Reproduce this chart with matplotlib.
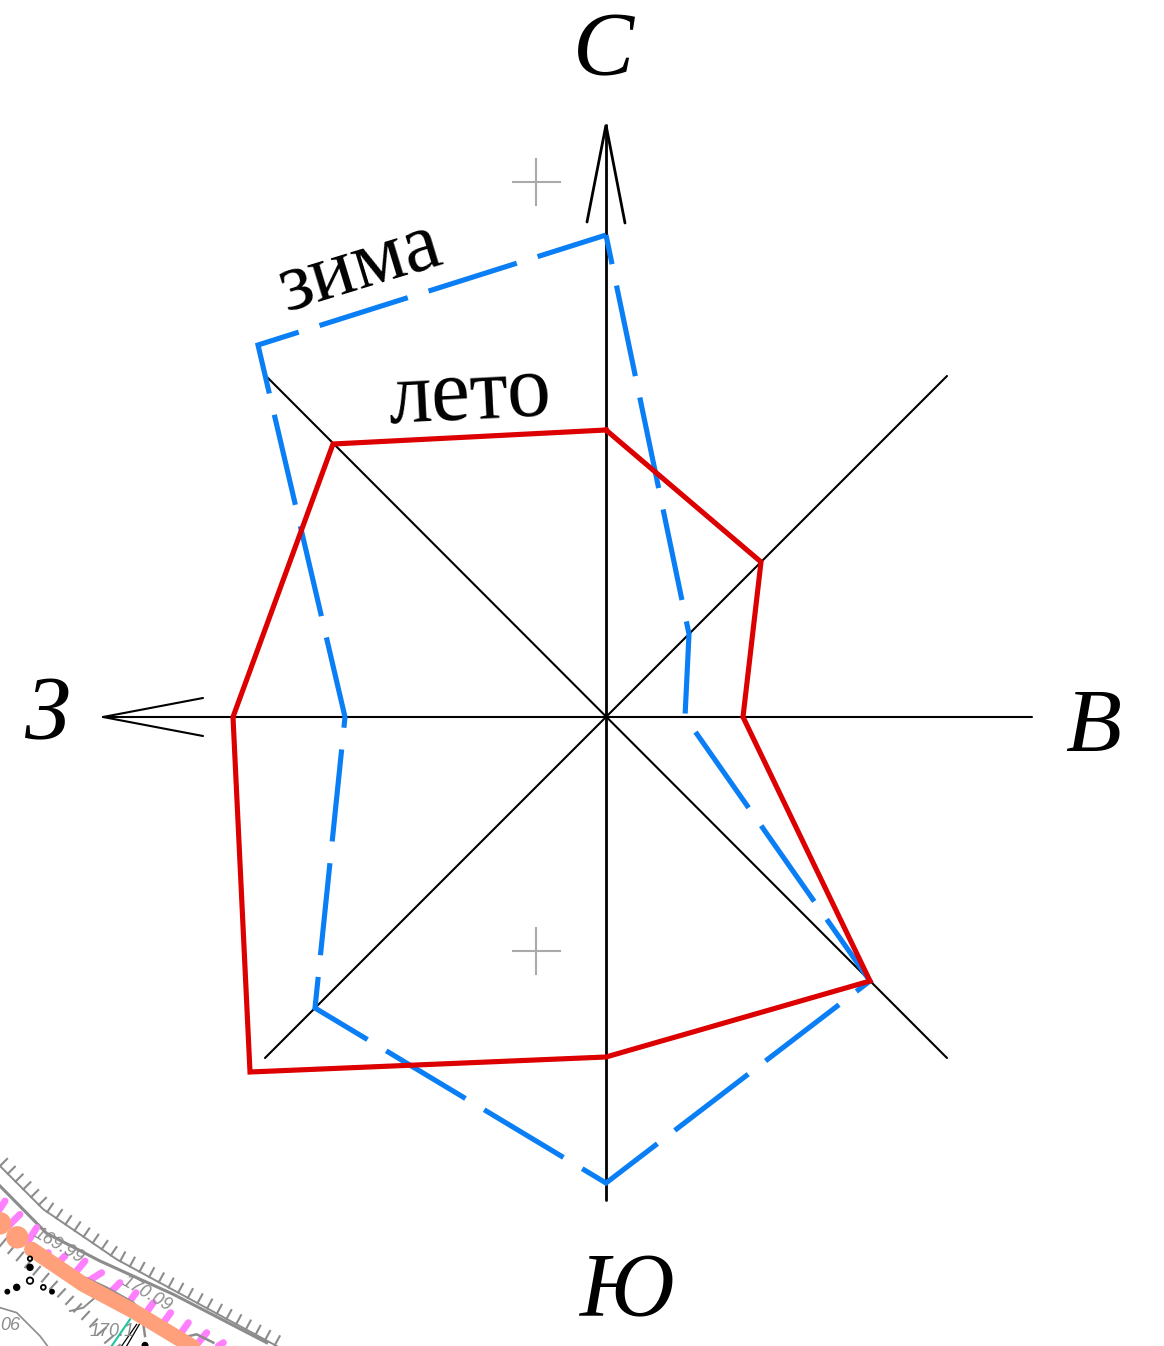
import matplotlib
matplotlib.use('Agg')
import matplotlib.pyplot as plt
import numpy as np

W, H = 1164, 1346
CX, CY = 606, 717

directions = ['С', 'СВ', 'В', 'ЮВ', 'Ю', 'ЮЗ', 'З', 'СЗ']
# east / north components of each direction's ray
winter_east = [0, 83, 79, 264, 0, -291, -261, -348]
winter_north = [482, 83, 0, -264, -466, -291, 0, 372]
summer_east = [0, 155, 137, 264, 0, -356, -373, -273]
summer_north = [287, 155, 0, -264, -340, -355, 0, 273]

BLUE = '#0a7ff5'
RED = '#dc0000'
SERIF = 'Liberation Serif'

fig = plt.figure(figsize=(W / 100, H / 100), dpi=100, facecolor='white')
ax = fig.add_axes([0, 0, 1, 1])
ax.set_xlim(-CX, W - CX)
ax.set_ylim(CY - H, CY)
ax.axis('off')

def P(x, y):
    return x - CX, CY - y

def seg(pts, **kw):
    a = np.array([P(*p) for p in pts])
    return ax.plot(a[:, 0], a[:, 1], **kw)

# axes of the rose
blk = dict(color='black', lw=1.5, solid_capstyle='round', zorder=2)
seg([(606, 125), (606, 1200)], **{**blk, 'lw': 2})
seg([(103, 717), (1032, 717)], **blk)
seg([(265, 1058), (947, 376)], **blk)
seg([(265, 375), (947, 1058)], **blk)
seg([(587, 222), (606, 125), (625, 223)], **{**blk, 'lw': 2, 'solid_joinstyle': 'miter'})
seg([(203, 698), (103, 717), (203, 736)], **blk)

# registration crosses
gr = dict(color='#aaaaaa', lw=1.5, zorder=1)
for cy in (182, 951):
    seg([(513, cy), (560, cy)], **gr)
    seg([(536, cy - 23), (536, cy + 23)], **gr)

# series
ax.plot(winter_east + winter_east[:1], winter_north + winter_north[:1], color=BLUE, lw=3.7,
        linestyle=(12.2, (18.0, 4.25)), dash_capstyle='butt', dash_joinstyle='miter', zorder=3)
ax.plot(summer_east + summer_east[:1], summer_north + summer_north[:1], color=RED, lw=3.7,
        solid_joinstyle='miter', zorder=4)

# labels
def label(x, y, s, size, rot=0, style='italic'):
    xx, yy = P(x, y)
    ax.text(xx, yy, s, family=SERIF, style=style, fontsize=size, ha='center', va='center',
            rotation=rot, rotation_mode='anchor', color='black', zorder=5)

label(603, 53, 'С', 66)
label(1093, 730, 'В', 66)
label(48, 717, 'З', 66)
label(626, 1294, 'Ю', 66)
label(360, 268, 'зима', 60, 17, 'normal')
label(469, 397, 'лето', 63, 3, 'normal')

# fragment of a plan in the corner
def Z(x, y):
    return x / 3, 1146 + y / 3

def hatch(pts, step, length, lw, side=1):
    a = np.array(pts, float)
    d = np.hypot(*np.diff(a, axis=0).T)
    s = np.r_[0, np.cumsum(d)]
    for t in np.arange(0, s[-1], step):
        i = min(np.searchsorted(s, t, side='right') - 1, len(d) - 1)
        u = (a[i + 1] - a[i]) / d[i]
        p = a[i] + u * (t - s[i])
        n = np.array([u[1], -u[0]]) * side
        seg([tuple(p), tuple(p + n * length)], color='#8c8c8c', lw=lw, zorder=6)

top = [Z(0, 60), Z(130, 190), Z(350, 340), Z(830, 600)]
low = [Z(0, 300), Z(130, 410), Z(290, 560), Z(340, 620)]
seg(top, color='#8c8c8c', lw=1.4, zorder=6)
hatch(top, 11, 10, 1.5)
hatch(low, 11, 10, 1.5)
seg([Z(0, 120), Z(140, 262), Z(300, 345), Z(520, 445), Z(800, 590)], color='#8c8c8c', lw=2.2, zorder=6)
seg([Z(0, 485), Z(50, 500), Z(120, 570), Z(150, 610)], color='#8c8c8c', lw=1.2, zorder=6)

for x0, y0, x1, y1 in [(-5, 195, 15, 165), (25, 240, 60, 205), (85, 285, 110, 245), (130, 340, 145, 320),
                       (180, 345, 195, 330), (230, 375, 255, 345), (265, 405, 305, 380), (335, 435, 360, 410),
                       (390, 465, 408, 440), (435, 505, 460, 470), (490, 530, 512, 500), (540, 565, 565, 530),
                       (595, 590, 620, 560), (655, 600, 670, 590)]:
    seg([Z(x0, y0), Z(x1, y1)], color='#ff80ff', lw=5, solid_capstyle='round', zorder=7)

seg([Z(95, 310), Z(250, 415), Z(400, 495), Z(590, 610)], color='#ffa07a', lw=11,
    solid_capstyle='round', zorder=8)
for c in (Z(0, 232), Z(52, 274)):
    x, y = P(*c)
    ax.add_patch(plt.Circle((x, y), 10.5, color='#ffa07a', zorder=8))

seg([Z(335, 600), Z(390, 520)], color='#19c8a0', lw=1.5, zorder=7)
seg([Z(365, 600), Z(410, 535)], color='black', lw=0.9, zorder=7)
seg([Z(380, 600), Z(418, 535)], color='black', lw=0.9, zorder=7)
seg([Z(210, 495), Z(250, 485), Z(285, 455)], color='#8c8c8c', lw=1.4, zorder=6)
seg([Z(255, 395), Z(320, 425), Z(400, 470), Z(425, 500), Z(435, 570)], color='#8c8c8c', lw=1.8, zorder=7)
seg([Z(545, 575), Z(590, 565), Z(640, 590)], color='#8c8c8c', lw=1.8, zorder=7)

for c, r, fc in [((90, 338), 2.2, 'none'), ((90, 364), 2.8, 'black'), ((90, 404), 3.2, 'none'), ((50, 424), 2.8, 'black'),
                 ((22, 437), 2.0, 'black'), ((130, 424), 2.4, 'none'), ((156, 437), 2.0, 'black'), ((435, 598), 2.6, 'black')]:
    x, y = P(*Z(*c))
    ax.add_patch(plt.Circle((x, y), r, fc=fc, ec='black', lw=1.3, zorder=9))

for c, s, rot in [((175, 300), '169.99', -30), ((440, 445), '170.09', -30), ((335, 555), '170.1', 0), ((32, 538), '06', 0)]:
    x, y = P(*Z(*c))
    ax.text(x, y, s, family='Liberation Sans', style='italic', fontsize=13, color='#8c8c8c', ha='center', va='center',
            rotation=rot, rotation_mode='anchor', zorder=9)

fig.savefig('out.png', dpi=100, facecolor='white')
